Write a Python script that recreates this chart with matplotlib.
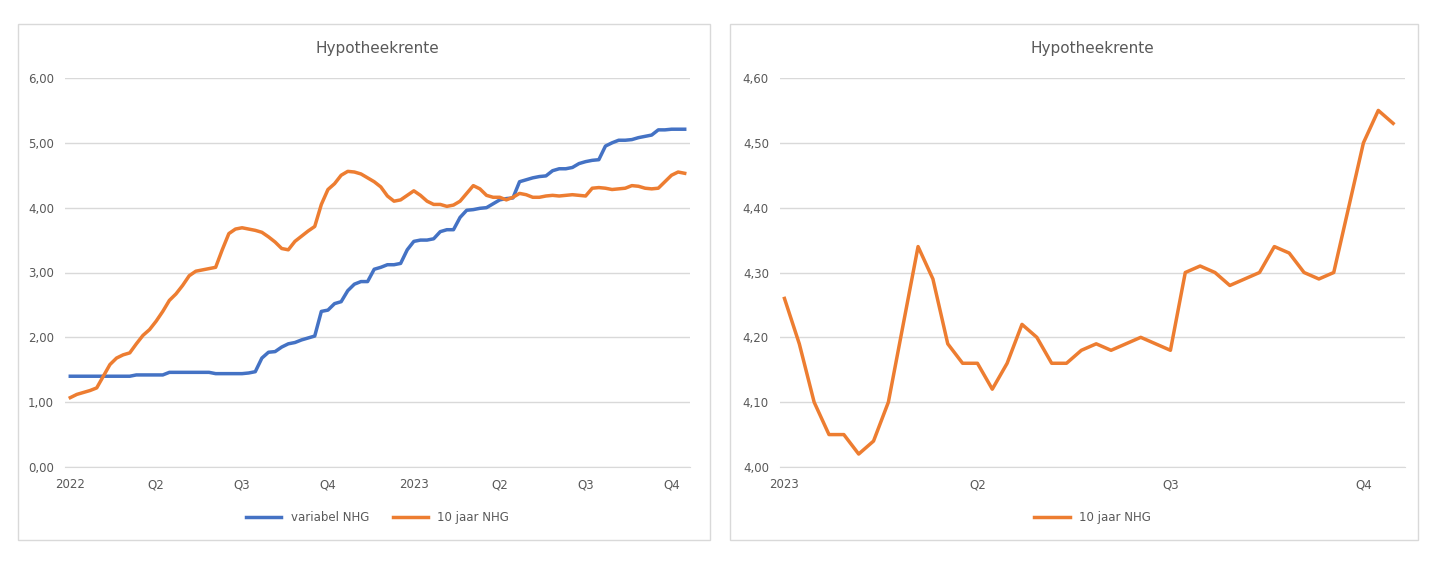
import numpy as np
import matplotlib.pyplot as plt
from matplotlib.patches import Rectangle

# weekly data, 2022 onward
variabel = [1.40]*10 + [1.42]*5 + [1.46]*7 + [1.44]*5 + [1.45, 1.47,
    1.68, 1.77, 1.78, 1.85, 1.90, 1.92, 1.96, 1.99, 2.02, 2.40, 2.42, 2.52, 2.55, 2.72,
    2.82, 2.86, 2.86, 3.05, 3.08, 3.12, 3.12, 3.14, 3.35, 3.48, 3.50, 3.50, 3.52, 3.63,
    3.66, 3.66, 3.85, 3.96, 3.97, 3.99, 4.00, 4.06, 4.12, 4.14, 4.15, 4.40, 4.43, 4.46,
    4.48, 4.49, 4.57, 4.60, 4.60, 4.62, 4.68, 4.71, 4.73, 4.74, 4.95, 5.00, 5.04, 5.04,
    5.05, 5.08, 5.10, 5.12, 5.20, 5.20, 5.21, 5.21, 5.21]

tienjaar_2023 = [4.26, 4.19, 4.10, 4.05, 4.05, 4.02, 4.04, 4.10, 4.22, 4.34, 4.29, 4.19, 4.16,
    4.16, 4.12, 4.16, 4.22, 4.20, 4.16, 4.16, 4.18, 4.19, 4.18, 4.19, 4.20, 4.19, 4.18,
    4.30, 4.31, 4.30, 4.28, 4.29, 4.30, 4.34, 4.33, 4.30, 4.29, 4.30, 4.40, 4.50, 4.55, 4.53]

tienjaar_2022 = [1.07, 1.12, 1.15, 1.18, 1.22, 1.40, 1.58, 1.68, 1.73, 1.76, 1.90, 2.03, 2.12,
    2.25, 2.40, 2.57, 2.67, 2.80, 2.95, 3.02, 3.04, 3.06, 3.08, 3.35, 3.60, 3.67, 3.69,
    3.67, 3.65, 3.62, 3.55, 3.47, 3.37, 3.35, 3.48, 3.56, 3.64, 3.71, 4.05, 4.28, 4.37,
    4.50, 4.56, 4.55, 4.52, 4.46, 4.40, 4.32, 4.18, 4.10, 4.12, 4.19]
tienjaar = tienjaar_2022 + tienjaar_2023

ticks_left = ['2022', 'Q2', 'Q3', 'Q4', '2023', 'Q2', 'Q3', 'Q4']
ticks_right = ['2023', 'Q2', 'Q3', 'Q4']

blue = '#4472c4'
orange = '#ed7d31'
grey = '#595959'
W, H = 1440, 562

fig = plt.figure(figsize=(14.4, 5.62), dpi=100)
for x0, x1 in [(18, 710), (730, 1418)]:
    fig.patches.append(Rectangle((x0 / W, 1 - 540 / H), (x1 - x0) / W, 516 / H,
                                 transform=fig.transFigure, fill=False, ec='#d9d9d9', lw=1))

def style(ax, ticks, ylim, ystep):
    ax.set_ylim(*ylim)
    ax.set_yticks(np.arange(ylim[0], ylim[1] + 1e-9, ystep))
    ax.set_yticklabels([f'{v:.2f}'.replace('.', ',') for v in ax.get_yticks()])
    ax.set_xticks(np.arange(len(ticks)) * 13)
    ax.set_xticklabels(ticks)
    ax.grid(axis='y', color='#d9d9d9', lw=1)
    ax.set_axisbelow(True)
    for s in ['top', 'right', 'left']:
        ax.spines[s].set_visible(False)
    ax.spines['bottom'].set_color('#d9d9d9')
    ax.tick_params(length=0, colors=grey, labelsize=8.5, pad=8)
    ax.set_title('Hypotheekrente', color=grey, fontsize=11, pad=18)

ax1 = fig.add_axes([65 / W, 1 - 467 / H, 625 / W, 389 / H])
ax1.plot(range(len(variabel)), variabel, color=blue, lw=2.5, label='variabel NHG')
ax1.plot(range(len(tienjaar)), tienjaar, color=orange, lw=2.5, label='10 jaar NHG')
ax1.set_xlim(-0.8, 93.8)
style(ax1, ticks_left, (0, 6), 1)
ax1.legend(loc='upper center', bbox_to_anchor=(0.5, -0.085), ncol=2, frameon=False,
           fontsize=8.5, labelcolor=grey, handlelength=3)

ax2 = fig.add_axes([780 / W, 1 - 467 / H, 625 / W, 389 / H])
ax2.plot(range(len(tienjaar_2023)), tienjaar_2023, color=orange, lw=2.5, label='10 jaar NHG')
ax2.set_xlim(-0.3, 41.8)
style(ax2, ticks_right, (4.0, 4.6), 0.1)
ax2.legend(loc='upper center', bbox_to_anchor=(0.5, -0.085), ncol=1, frameon=False,
           fontsize=8.5, labelcolor=grey, handlelength=3)

fig.savefig('out.png', dpi=100)
